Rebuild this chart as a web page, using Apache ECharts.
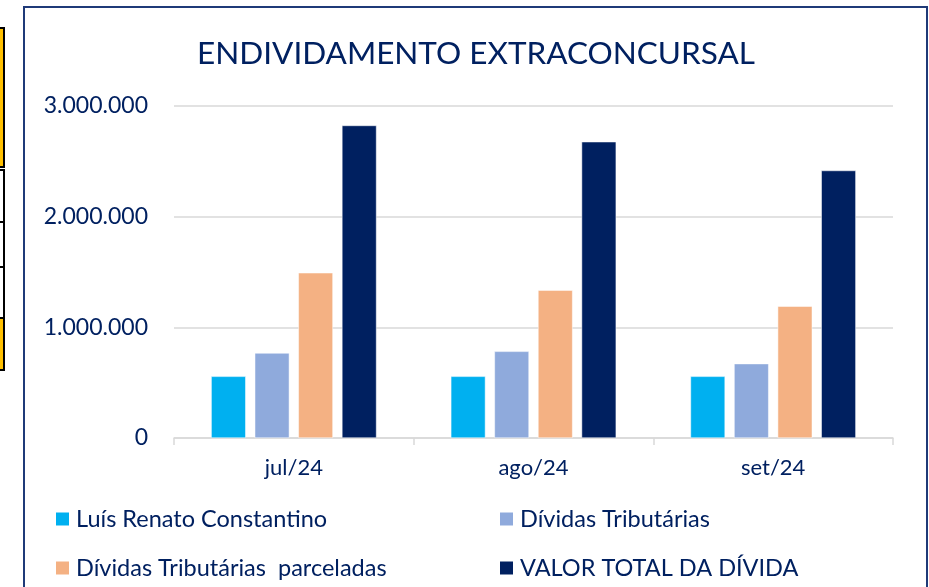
<!DOCTYPE html>
<html>
<head>
<meta charset="utf-8">
<script src="https://cdn.jsdelivr.net/npm/echarts@6/dist/echarts.min.js"></script>
<style>html,body{margin:0;padding:0;background:#fff;}#c{width:929px;height:587px;}</style>
</head>
<body>
<div id="c"></div>
<script>
var categories = ['jul/24', 'ago/24', 'set/24'];
var seriesNames = ['Luís Renato Constantino', 'Dívidas Tributárias', 'Dívidas Tributárias  parceladas', 'VALOR TOTAL DA DÍVIDA'];
var luisRenato = [557000, 557000, 557000];
var dividasTributarias = [768000, 783000, 672000];
var dividasParceladas = [1493000, 1336000, 1191000];
var valorTotal = [2824000, 2677000, 2417000];
var yTicks = [0, 1000000, 2000000, 3000000];

var colors = ['#00B0F0', '#8FAADC', '#F4B183', '#002060'];
var navy = '#002060';
var font = 'Lato';

function fmt(v) {
  return String(v).replace(/\B(?=(\d{3})+(?!\d))/g, '.');
}

var values = [luisRenato, dividasTributarias, dividasParceladas, valorTotal];
var series = seriesNames.map(function (n, i) {
  return {
    name: n,
    type: 'bar',
    data: values[i],
    barGap: '26%',
    barCategoryGap: '31%',
    itemStyle: { color: colors[i], borderColor: '#ffffff', borderWidth: 0.5 }
  };
});

var legendPos = [[54, 507], [498, 507], [54, 556], [498, 556]];
var legends = seriesNames.map(function (n, i) {
  return {
    data: [n],
    left: legendPos[i][0], top: legendPos[i][1], padding: 0,
    itemWidth: 15, itemHeight: 15, itemGap: 0, icon: 'rect',
    textStyle: { color: navy, fontFamily: font, fontSize: 23.5, padding: [0, 0, 0, 1] }
  };
});

var chart = echarts.init(document.getElementById('c'), null, { renderer: 'canvas' });
chart.setOption({
  animation: false,
  backgroundColor: '#ffffff',
  color: colors,
  title: {
    text: 'ENDIVIDAMENTO EXTRACONCURSAL',
    left: 471, top: 33, textAlign: 'center',
    textStyle: { color: navy, fontFamily: font, fontWeight: 'normal', fontSize: 31.5 }
  },
  graphic: [
    { type: 'rect', shape: { x: 24, y: 7, width: 903, height: 600 }, style: { fill: 'none', stroke: '#1F3A78', lineWidth: 2 }, z: 100 },
    { type: 'rect', shape: { x: -6, y: 28, width: 10, height: 139 }, style: { fill: '#FFC000', stroke: '#000', lineWidth: 2 } },
    { type: 'rect', shape: { x: -6, y: 170, width: 10, height: 52 }, style: { fill: '#fff', stroke: '#000', lineWidth: 2 } },
    { type: 'rect', shape: { x: -6, y: 222, width: 10, height: 45 }, style: { fill: '#fff', stroke: '#000', lineWidth: 2 } },
    { type: 'rect', shape: { x: -6, y: 267, width: 10, height: 51 }, style: { fill: '#fff', stroke: '#000', lineWidth: 2 } },
    { type: 'rect', shape: { x: -6, y: 318, width: 10, height: 52 }, style: { fill: '#FFC000', stroke: '#000', lineWidth: 2 } }
  ],
  legend: legends,
  grid: { left: 174, right: 36, top: 106, bottom: 149, containLabel: false },
  xAxis: {
    type: 'category',
    data: categories,
    axisLine: { lineStyle: { color: '#D9D9D9', width: 1.5 } },
    axisTick: { show: true, length: 7, lineStyle: { color: '#D9D9D9', width: 1.5 } },
    axisLabel: { color: navy, fontFamily: font, fontSize: 22, margin: 19 }
  },
  yAxis: {
    type: 'value',
    min: yTicks[0], max: yTicks[yTicks.length - 1], interval: yTicks[1] - yTicks[0],
    axisLine: { show: false },
    axisTick: { show: false },
    splitLine: { lineStyle: { color: '#D9D9D9', width: 1.5 } },
    axisLabel: { color: navy, fontFamily: font, fontSize: 23, margin: 26, formatter: fmt }
  },
  series: series
});
</script>
</body>
</html>
